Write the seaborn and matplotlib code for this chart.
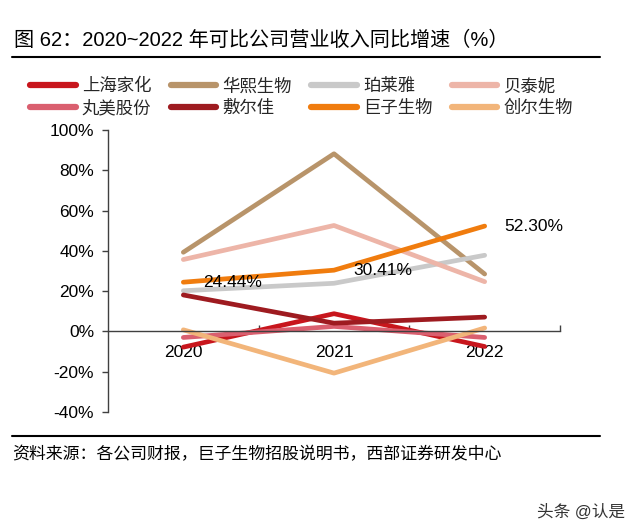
import numpy as np
import pandas as pd
import matplotlib
matplotlib.use('Agg')
import matplotlib.pyplot as plt
import seaborn as sns
from matplotlib.lines import Line2D
from matplotlib.ticker import FixedLocator, FuncFormatter

# ---- data ----
years = ['2020', '2021', '2022']
companies = ['上海家化', '华熙生物', '珀莱雅', '贝泰妮', '丸美股份', '敷尔佳', '巨子生物', '创尔生物']
shanghai_jiahua = [-7.8, 8.8, -7.5]
huaxi = [39.3, 88.2, 28.5]
proya = [20.2, 23.9, 37.8]
botanee = [35.7, 52.6, 24.7]
marubi = [-3.0, 2.5, -3.0]
fuerjia = [18.1, 4.1, 7.1]
giant_bio = [24.44, 30.41, 52.30]
chuanger = [0.8, -20.7, 1.7]
colors = ['#C8161D', '#B8946A', '#C9C9C9', '#EDB5A8', '#DA5F6F', '#9E1B20', '#F07C0E', '#F2B57A']
yticks = [-40, -20, 0, 20, 40, 60, 80, 100]

series = [shanghai_jiahua, huaxi, proya, botanee, marubi, fuerjia, giant_bio, chuanger]
rows = []
for name, vals in zip(companies, series):
    for i, v in enumerate(vals):
        rows.append({'pos': i, 'year': years[i], 'value': v, 'company': name})
df = pd.DataFrame(rows)

sns.set_theme(style='white')
plt.rcParams['font.family'] = ['Liberation Sans', 'Noto Sans CJK SC']

W, H = 640, 531
fig = plt.figure(figsize=(6.4, 5.31), dpi=100)
fig.patch.set_facecolor('white')
ax = fig.add_axes([108 / W, 1 - 412 / H, (560 - 108) / W, (412 - 130) / H])

sns.lineplot(data=df, x='pos', y='value', hue='company', hue_order=companies,
             palette=colors, linewidth=3.4, ax=ax, legend=False, sort=False)

# annotations for 巨子生物
for i, v in enumerate(giant_bio):
    ax.text(i + 0.13, v, f'{v:.2f}%', ha='left', va='center', fontsize=12.5, color='black')

ax.set_xlim(-0.5, 2.5)
ax.set_ylim(-40, 100)
ax.set_xlabel('')
ax.set_ylabel('')
for s in ['top', 'right']:
    ax.spines[s].set_visible(False)
ax.spines['bottom'].set_position(('data', 0))
ax.spines['bottom'].set_color('#404040')
ax.spines['left'].set_color('#404040')
ax.spines['bottom'].set_linewidth(1)
ax.spines['left'].set_linewidth(1)

ax.xaxis.set_major_locator(FixedLocator([0, 1, 2]))
ax.set_xticklabels(years)
ax.xaxis.set_minor_locator(FixedLocator([0.5, 1.5, 2.5]))
ax.tick_params(axis='x', which='major', length=0, pad=10, labelsize=12.5, colors='black')
ax.tick_params(axis='x', which='minor', direction='in', length=4, width=1, color='#404040', bottom=True)

ax.yaxis.set_major_locator(FixedLocator(yticks))
ax.yaxis.set_major_formatter(FuncFormatter(lambda v, p: f'{v:.0f}%'))
ax.tick_params(axis='y', which='major', direction='out', length=4, width=1, color='#404040',
               pad=6, labelsize=12.5, labelcolor='black', left=True)

# legend (row-major order -> column-major handles)
order = [0, 4, 1, 5, 2, 6, 3, 7]
handles = [Line2D([0], [0], color=colors[k], lw=4.5, solid_capstyle='round') for k in order]
labels = [companies[k] for k in order]
fig.legend(handles, labels, ncol=4, loc='upper left', bbox_to_anchor=(30 / W, 1 - 78 / H),
           frameon=False, fontsize=12.5, handlelength=2.64, handletextpad=0.35,
           columnspacing=1.1, labelspacing=0.3, borderpad=0, borderaxespad=0)

# title, rules, source, watermark
fig.text(14 / W, 1 - 40 / H, '图 62：2020~2022 年可比公司营业收入同比增速（%）', fontsize=14.5,
         ha='left', va='center', color='black')
fig.add_artist(Line2D([12 / W, 600 / W], [1 - 57 / H, 1 - 57 / H], color='black', lw=1.5))
fig.add_artist(Line2D([12 / W, 600 / W], [1 - 436 / H, 1 - 436 / H], color='black', lw=1.5))
fig.text(12 / W, 1 - 454 / H, '资料来源：各公司财报，巨子生物招股说明书，西部证券研发中心', fontsize=12.2,
         ha='left', va='center', color='black')
fig.text(625 / W, 1 - 512 / H, '头条 @认是', fontsize=12, ha='right', va='center', color='#333333')

fig.savefig('out.png', dpi=100)
